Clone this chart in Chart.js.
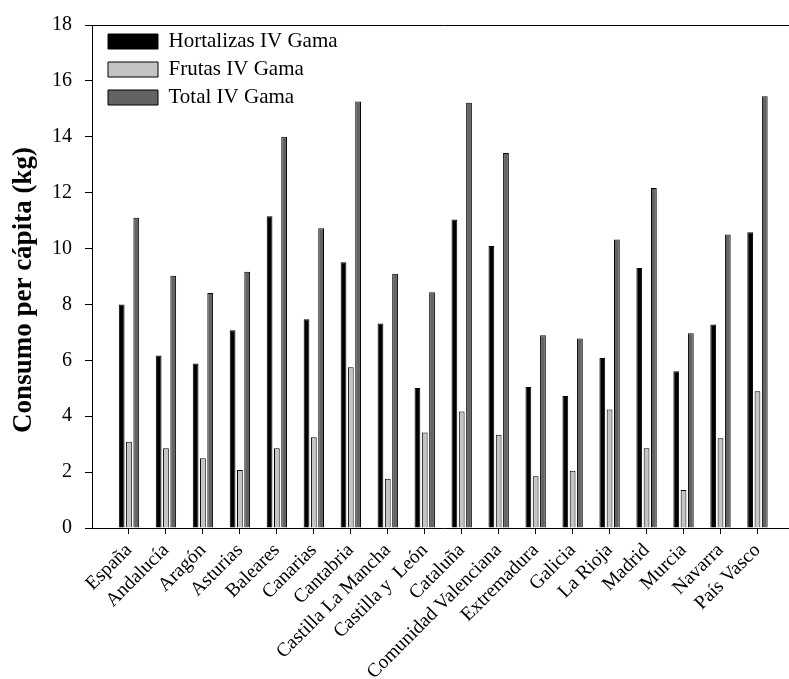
<!DOCTYPE html>
<html>
<head>
<meta charset="utf-8">
<script src="https://cdn.jsdelivr.net/npm/chart.js@4/dist/chart.umd.min.js"></script>
<style>
  html, body { margin: 0; padding: 0; background: #fff; overflow: hidden; }
  #wrap { width: 816px; height: 679px; }
</style>
</head>
<body>
<div id="wrap"><canvas id="chart" width="816" height="679"></canvas></div>
<script>
// Regions (first entry is the national figure)
const regiones = [
  'España', 'Andalucía', 'Aragón', 'Asturias', 'Baleares', 'Canarias',
  'Cantabria', 'Castilla La Mancha', 'Castilla y  León', 'Cataluña',
  'Comunidad Valenciana', 'Extremadura', 'Galicia', 'La Rioja', 'Madrid',
  'Murcia', 'Navarra', 'País Vasco'
];

// Per-capita consumption, kg
const hortalizas = [8.00, 6.17, 5.89, 7.08, 11.16, 7.47, 9.51, 7.32, 5.01, 11.04, 10.09, 5.05, 4.72, 6.08, 9.30, 5.61, 7.28, 10.58];
const frutas     = [3.09, 2.85, 2.50, 2.08, 2.85, 3.25, 5.75, 1.76, 3.42, 4.17, 3.34, 1.85, 2.05, 4.24, 2.85, 1.36, 3.21, 4.89];
const total      = [11.10, 9.03, 8.41, 9.17, 14.00, 10.73, 15.26, 9.10, 8.44, 15.22, 13.42, 6.90, 6.78, 10.32, 12.17, 6.97, 10.50, 15.45];

const yTicks = [0, 2, 4, 6, 8, 10, 12, 14, 16, 18];

// Empty slot at each end of the category axis
const labels = [''].concat(regiones, ['']);
const pad = arr => [null].concat(arr, [null]);

const serif = "'Liberation Serif', 'Times New Roman', Times, serif";
Chart.defaults.color = '#000';
Chart.defaults.font.family = serif;

// Nudge the in-plot legend away from the axes
const legendNudge = {
  id: 'legendNudge',
  afterLayout(chart) {
    const l = chart.legend;
    if (!l) return;
    l.left += 9; l.right += 9;
    l.top += 24; l.bottom += 24;
  }
};

new Chart(document.getElementById('chart'), {
  type: 'bar',
  data: {
    labels: labels,
    datasets: [
      { label: 'Hortalizas IV Gama', data: pad(hortalizas), backgroundColor: '#000000', borderColor: '#000000', borderWidth: 1 },
      { label: 'Frutas IV Gama', data: pad(frutas), backgroundColor: '#c4c4c4', borderColor: '#000000', borderWidth: 1 },
      { label: 'Total IV Gama', data: pad(total), backgroundColor: '#636363', borderColor: '#000000', borderWidth: 1 }
    ]
  },
  plugins: [legendNudge],
  options: {
    responsive: false,
    animation: false,
    layout: { padding: { left: 0, top: 21, right: 1.5, bottom: 0 } },
    datasets: {
      bar: { categoryPercentage: 0.592, barPercentage: 0.79, skipNull: false }
    },
    plugins: {
      tooltip: { enabled: false },
      legend: {
        position: 'chartArea',
        align: 'start',
        labels: {
          boxWidth: 50,
          boxHeight: 15,
          padding: 7,
          color: '#000',
          font: { family: serif, size: 21 }
        }
      }
    },
    scales: {
      x: {
        type: 'category',
        offset: false,
        grid: {
          display: true,
          drawOnChartArea: false,
          offset: false,
          tickLength: 6,
          tickWidth: 1,
          tickColor: ctx => (ctx.index === 0 || ctx.index === labels.length - 1) ? 'rgba(0,0,0,0)' : '#000'
        },
        border: { display: true, color: '#000', width: 1 },
        ticks: {
          autoSkip: false,
          minRotation: 45,
          maxRotation: 45,
          padding: 5,
          color: '#000',
          font: { family: serif, size: 19.5 }
        },
        afterFit(scale) { scale.height = 151; }
      },
      y: {
        min: 0,
        max: 18,
        afterBuildTicks(scale) { scale.ticks = yTicks.map(v => ({ value: v })); },
        grid: {
          drawOnChartArea: true,
          color: ctx => (ctx.tick && ctx.tick.value === 18) ? '#000' : 'rgba(0,0,0,0)',
          lineWidth: 1,
          tickLength: 7,
          tickColor: '#000'
        },
        border: { display: true, color: '#000', width: 1 },
        ticks: {
          padding: 13,
          color: '#000',
          font: { family: serif, size: 20 }
        },
        title: {
          display: true,
          text: 'Consumo per cápita (kg)\u00a0\u00a0\u00a0\u00a0',
          color: '#000',
          font: { family: serif, size: 27, weight: 'bold' },
          padding: { top: 8, bottom: 0 }
        },
        afterFit(scale) { scale.width = 92; }
      }
    }
  }
});
</script>
</body>
</html>
